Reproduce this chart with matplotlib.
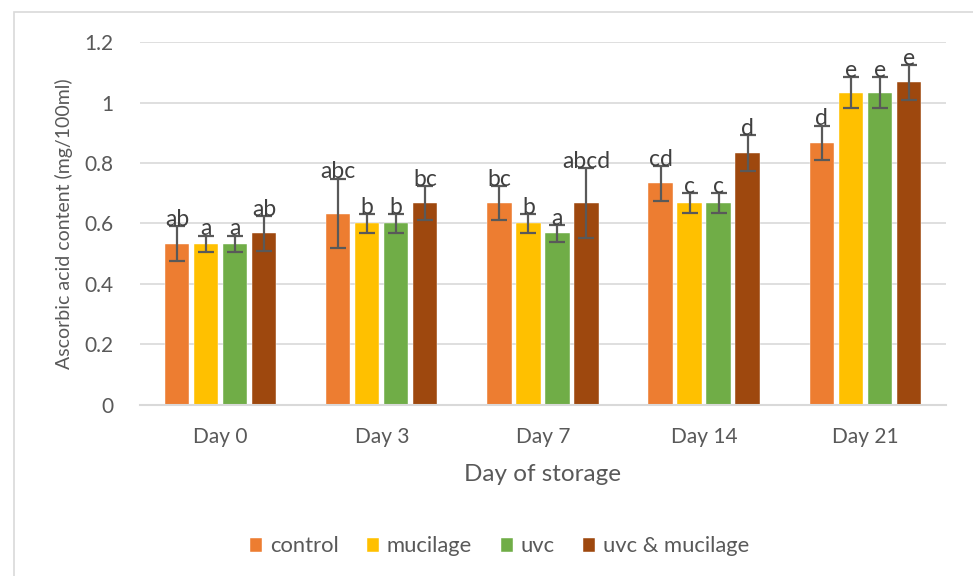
import numpy as np
import matplotlib.pyplot as plt
from matplotlib.patches import Rectangle

# Ascorbic acid content per treatment over storage time
days = ["Day 0", "Day 3", "Day 7", "Day 14", "Day 21"]
treatments = ["control", "mucilage", "uvc", "uvc & mucilage"]

control = [0.533, 0.633, 0.667, 0.733, 0.867]
mucilage = [0.533, 0.600, 0.600, 0.667, 1.033]
uvc = [0.533, 0.600, 0.567, 0.667, 1.033]
uvc_mucilage = [0.567, 0.667, 0.667, 0.833, 1.067]

control_err = [0.058, 0.115, 0.057, 0.057, 0.057]
mucilage_err = [0.027, 0.030, 0.030, 0.033, 0.050]
uvc_err = [0.027, 0.030, 0.028, 0.033, 0.050]
uvc_mucilage_err = [0.057, 0.057, 0.115, 0.058, 0.057]

control_sig = ["ab", "abc", "bc", "cd", "d"]
mucilage_sig = ["a", "b", "b", "c", "e"]
uvc_sig = ["a", "b", "a", "c", "e"]
uvc_mucilage_sig = ["ab", "bc", "abcd", "d", "e"]

colors = ["#ED7D31", "#FFC000", "#70AD47", "#9E480E"]
text_color = "#595959"

plt.rcParams['font.family'] = ['Lato', 'DejaVu Sans']

fig = plt.figure(figsize=(9.73, 5.76), dpi=100)
ax = fig.add_axes([0.144, 0.297, 0.828, 0.630])

# chart area border
fig.patches.append(Rectangle((14 / 973, -0.1), 1.0, 1 - 12 / 576 + 0.1,
                             transform=fig.transFigure, fill=False,
                             edgecolor="#D9D9D9", linewidth=1.2))

values = [control, mucilage, uvc, uvc_mucilage]
errors = [control_err, mucilage_err, uvc_err, uvc_mucilage_err]
letters = [control_sig, mucilage_sig, uvc_sig, uvc_mucilage_sig]

x = np.arange(len(days))
step = 0.18
width = 0.15
for i, (name, vals, errs, sig) in enumerate(zip(treatments, values, errors, letters)):
    pos = x + (i - 1.5) * step
    ax.bar(pos, vals, width, color=colors[i], label=name, zorder=2,
           edgecolor="white", linewidth=0.3)
    ax.errorbar(pos, vals, yerr=errs, fmt="none", ecolor=text_color,
                elinewidth=1.6, capsize=5.5, capthick=1.6, zorder=3)
    for px, v, e, s in zip(pos, vals, errs, sig):
        ax.text(px, v + e - 0.012, s, ha="center", va="bottom",
                fontsize=16.5, color="#404040", zorder=4)

ax.set_xlim(-0.5, len(days) - 0.5)
ax.set_ylim(0, 1.2)
ax.set_yticks(np.arange(0, 1.21, 0.2))
ax.set_yticklabels(["0", "0.2", "0.4", "0.6", "0.8", "1", "1.2"])
ax.set_xticks(x)
ax.set_xticklabels(days)
ax.yaxis.grid(True, color="#D9D9D9", linewidth=1.2, zorder=0)
ax.set_axisbelow(True)
for side in ["top", "right", "left"]:
    ax.spines[side].set_visible(False)
ax.spines["bottom"].set_color("#D9D9D9")
ax.spines["bottom"].set_linewidth(1.5)
ax.tick_params(axis="both", length=0, labelsize=15, colors=text_color, pad=16)
ax.tick_params(axis="y", pad=19)

ax.set_xlabel("Day of storage", fontsize=17.5, color=text_color, labelpad=12)
ax.set_ylabel("Ascorbic acid content (mg/100ml)", fontsize=14,
              color=text_color)
ax.yaxis.set_label_coords(-0.083, 0.5)

ax.legend(loc="upper center", bbox_to_anchor=(0.446, -0.308), ncol=4,
          frameon=False, fontsize=15.8, handlelength=0.55, handleheight=0.6,
          handletextpad=0.35, columnspacing=1.3, labelcolor=text_color)

fig.savefig("out.png", dpi=100, facecolor="white")
